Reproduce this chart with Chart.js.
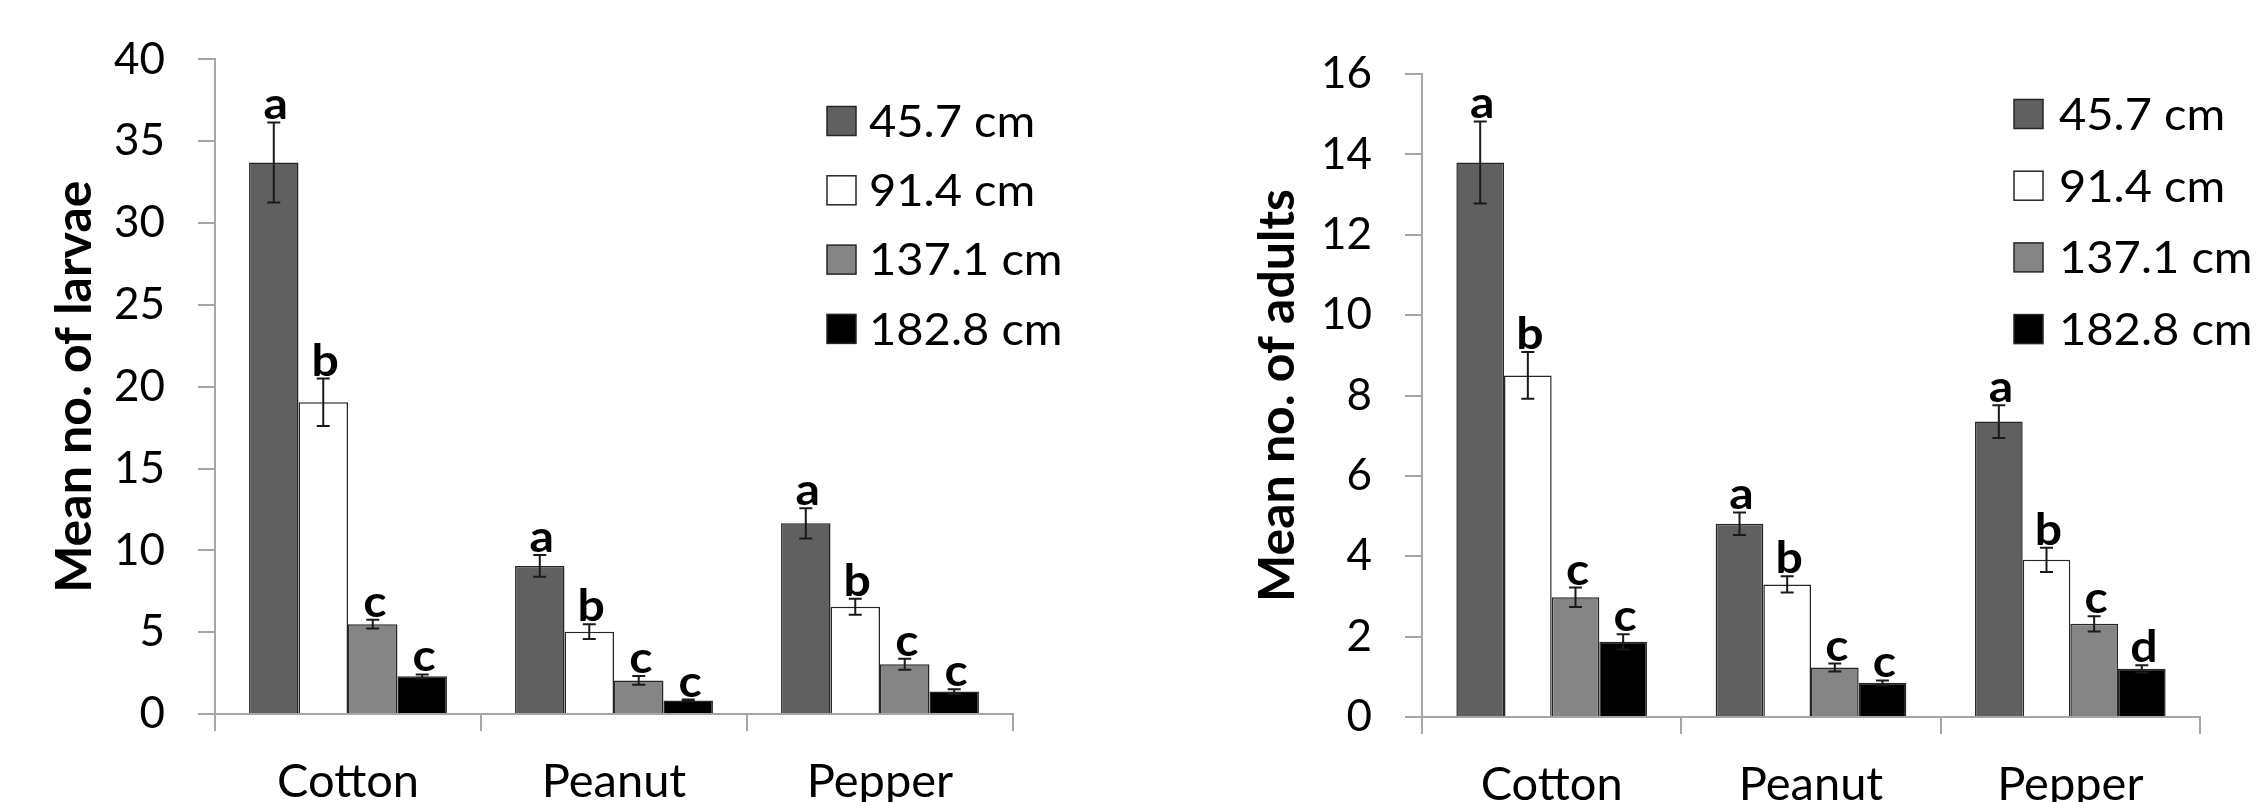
<!DOCTYPE html>
<html>
<head>
<meta charset="utf-8">
<script src="https://cdn.jsdelivr.net/npm/chart.js@4.4.1/dist/chart.umd.min.js"></script>
<style>
  html, body { margin: 0; padding: 0; background: #fff; }
  #wrap { position: relative; width: 2259px; height: 802px; overflow: hidden; background: #fff; }
  #wrap canvas { position: absolute; top: 0; }
</style>
</head>
<body>
<div id="wrap">
  <canvas id="larvae" width="1130" height="802" style="left:0;width:1130px;height:802px"></canvas>
  <canvas id="adults" width="1129" height="802" style="left:1130px;width:1129px;height:802px"></canvas>
</div>
<script>
// Crops and row spacings
const crops = ['Cotton', 'Peanut', 'Pepper'];
const spacings = ['45.7 cm', '91.4 cm', '137.1 cm', '182.8 cm'];
const spacingColors = ['#606060', '#ffffff', '#858585', '#000000'];

// Mean number of larvae (± SE) per row spacing, ordered Cotton, Peanut, Pepper
const larvae_457 = [33.7, 9.05, 11.65];
const larvae_914 = [19.05, 5.03, 6.55];
const larvae_1371 = [5.49, 2.05, 3.04];
const larvae_1828 = [2.30, 0.83, 1.37];
const larvaeSE_457 = [2.45, 0.66, 0.93];
const larvaeSE_914 = [1.45, 0.45, 0.49];
const larvaeSE_1371 = [0.27, 0.27, 0.33];
const larvaeSE_1828 = [0.12, 0.05, 0.15];
const larvaeLetters_457 = ['a', 'a', 'a'];
const larvaeLetters_914 = ['b', 'b', 'b'];
const larvaeLetters_1371 = ['c', 'c', 'c'];
const larvaeLetters_1828 = ['c', 'c', 'c'];

// Mean number of adults (± SE) per row spacing
const adults_457 = [13.8, 4.81, 7.35];
const adults_914 = [8.5, 3.30, 3.91];
const adults_1371 = [2.98, 1.23, 2.32];
const adults_1828 = [1.87, 0.85, 1.20];
const adultsSE_457 = [1.02, 0.28, 0.41];
const adultsSE_914 = [0.58, 0.20, 0.30];
const adultsSE_1371 = [0.24, 0.10, 0.19];
const adultsSE_1828 = [0.19, 0.06, 0.09];
const adultsLetters_457 = ['a', 'a', 'a'];
const adultsLetters_914 = ['b', 'b', 'b'];
const adultsLetters_1371 = ['c', 'c', 'c'];
const adultsLetters_1828 = ['c', 'c', 'd'];

// Axis tick settings
const larvaeTicks = { min: 0, max: 40, step: 5 };
const adultsTicks = { min: 0, max: 16, step: 2 };

const FONT = 'Lato, "Open Sans", sans-serif';
const AXIS_GRAY = '#a6a6a6';

function makeDatasets(values, errors, letters) {
  return spacings.map((label, i) => ({
    label,
    data: values[i],
    errors: errors[i],
    letters: letters[i],
    backgroundColor: spacingColors[i],
    borderColor: '#262626',
    borderWidth: 1.5,
    categoryPercentage: 0.744,
    barPercentage: 1.0
  }));
}

// Draws text widened horizontally by sx around its anchor point
function wideText(ctx, text, x, y, sx) {
  ctx.save();
  ctx.translate(x, y);
  ctx.scale(sx, 1);
  ctx.fillText(text, 0, 0);
  ctx.restore();
}

// Error bars with significance letters drawn above each bar
const errorBarPlugin = {
  id: 'errorBars',
  afterDatasetsDraw(chart, args, o) {
    const ctx = chart.ctx;
    const yScale = chart.scales.y;
    chart.data.datasets.forEach((ds, i) => {
      const meta = chart.getDatasetMeta(i);
      meta.data.forEach((bar, j) => {
        const v = ds.data[j], e = ds.errors[j];
        const yTop = yScale.getPixelForValue(v + e);
        const yBot = yScale.getPixelForValue(v - e);
        ctx.save();
        ctx.strokeStyle = '#1a1a1a';
        ctx.lineWidth = 2;
        ctx.beginPath();
        ctx.moveTo(bar.x, yTop); ctx.lineTo(bar.x, yBot);
        ctx.moveTo(bar.x - o.cap, yTop); ctx.lineTo(bar.x + o.cap, yTop);
        ctx.moveTo(bar.x - o.cap, yBot); ctx.lineTo(bar.x + o.cap, yBot);
        ctx.stroke();
        ctx.fillStyle = '#000';
        ctx.font = 'bold ' + o.letterSize + 'px ' + FONT;
        ctx.textAlign = 'center';
        ctx.textBaseline = 'alphabetic';
        wideText(ctx, ds.letters[j], bar.x + 2, yTop - o.gap, 1.12);
        ctx.restore();
      });
    });
  }
};

// Boxed legend placed inside the plot region
const boxLegendPlugin = {
  id: 'boxLegend',
  afterDraw(chart, args, o) {
    const ctx = chart.ctx;
    ctx.save();
    chart.data.datasets.forEach((ds, i) => {
      const cy = o.top + i * o.step;
      ctx.fillStyle = ds.backgroundColor;
      ctx.fillRect(o.x, cy - o.box / 2, o.box, o.box);
      ctx.strokeStyle = '#262626';
      ctx.lineWidth = 1.5;
      ctx.strokeRect(o.x, cy - o.box / 2, o.box, o.box);
      ctx.fillStyle = '#000';
      ctx.font = o.size + 'px ' + FONT;
      ctx.textAlign = 'left';
      ctx.textBaseline = 'alphabetic';
      wideText(ctx, ds.label, o.textX, cy + o.size * 0.36, 1.07);
    });
    ctx.restore();
  }
};

function buildChart(id, cfg) {
  return new Chart(document.getElementById(id), {
    type: 'bar',
    data: { labels: crops, datasets: cfg.datasets },
    options: {
      responsive: false,
      animation: false,
      layout: { padding: cfg.padding },
      plugins: {
        legend: { display: false },
        tooltip: { enabled: false },
        errorBars: { cap: 6.5, gap: 3, letterSize: 43 },
        boxLegend: cfg.legend
      },
      scales: {
        x: {
          grid: {
            display: true, offset: true, drawOnChartArea: false, drawTicks: true,
            tickLength: 17, color: AXIS_GRAY, lineWidth: 2
          },
          border: { display: true, color: AXIS_GRAY, width: 2 },
          ticks: { color: '#000', font: { family: FONT, size: 47 }, padding: 23, maxRotation: 0 },
          afterFit(scale) { scale.height = cfg.xHeight; }
        },
        y: {
          min: cfg.ticks.min, max: cfg.ticks.max,
          grid: {
            display: true, drawOnChartArea: false, drawTicks: true,
            tickLength: 17, color: AXIS_GRAY, lineWidth: 2
          },
          border: { display: true, color: AXIS_GRAY, width: 2 },
          ticks: { stepSize: cfg.ticks.step, color: '#000', font: { family: FONT, size: 44 }, padding: 33 },
          title: {
            display: true, text: cfg.title, color: '#000',
            font: { family: FONT, size: 50, weight: 'bold', lineHeight: 1 },
            padding: { top: cfg.titlePad, bottom: 0 }
          },
          afterFit(scale) { scale.width = cfg.yWidth; }
        }
      }
    },
    plugins: [errorBarPlugin, boxLegendPlugin]
  });
}

buildChart('larvae', {
  datasets: makeDatasets(
    [larvae_457, larvae_914, larvae_1371, larvae_1828],
    [larvaeSE_457, larvaeSE_914, larvaeSE_1371, larvaeSE_1828],
    [larvaeLetters_457, larvaeLetters_914, larvaeLetters_1371, larvaeLetters_1828]
  ),
  ticks: larvaeTicks,
  title: 'Mean no. of larvae',
  padding: { left: 0, top: 57, right: 117, bottom: 0 },
  yWidth: 215, xHeight: 88, titlePad: 50,
  legend: { x: 827, textX: 869, top: 121, step: 69.3, box: 29, size: 44 }
});

buildChart('adults', {
  datasets: makeDatasets(
    [adults_457, adults_914, adults_1371, adults_1828],
    [adultsSE_457, adultsSE_914, adultsSE_1371, adultsSE_1828],
    [adultsLetters_457, adultsLetters_914, adultsLetters_1371, adultsLetters_1828]
  ).map(d => Object.assign(d, { categoryPercentage: 0.735 })),
  ticks: adultsTicks,
  title: 'Mean no. of adults',
  padding: { left: 0, top: 74, right: 59, bottom: 0 },
  yWidth: 292, xHeight: 85, titlePad: 123,
  legend: { x: 884, textX: 929, top: 114, step: 71.7, box: 29, size: 44 }
});
</script>
</body>
</html>
